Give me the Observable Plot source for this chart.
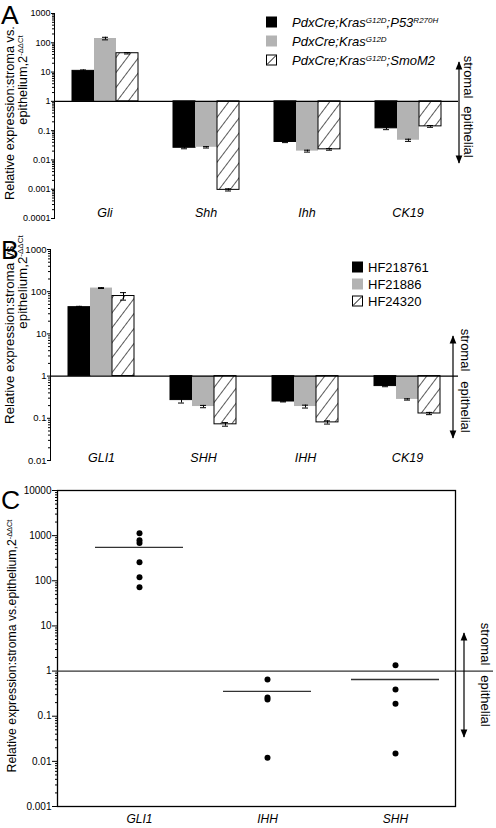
<!DOCTYPE html>
<html><head><meta charset="utf-8">
<script src="https://cdn.jsdelivr.net/npm/d3@7"></script>
<script src="https://cdn.jsdelivr.net/npm/@observablehq/plot@0.6"></script>
<style>
html,body{margin:0;padding:0;background:#fff;}
#page{position:relative;width:496px;height:828px;overflow:hidden;font-family:"Liberation Sans",Arial,sans-serif;}
.panel{position:absolute;left:0;}
#overlay{position:absolute;left:0;top:0;pointer-events:none;}
#overlay text{font-family:"Liberation Sans",Arial,sans-serif;}
</style></head><body>
<svg width="0" height="0" style="position:absolute">
<defs>
<pattern id="hatch" patternUnits="userSpaceOnUse" width="9" height="9" patternTransform="rotate(37)">
<rect width="9" height="9" fill="white"/><line x1="0" y1="0" x2="0" y2="9" stroke="black" stroke-width="1.3"/>
</pattern>
<marker id="ah" viewBox="0 0 10 10" refX="9" refY="5" markerWidth="7" markerHeight="7" orient="auto-start-reverse">
<path d="M0,1 L10,5 L0,9 z" fill="black"/>
</marker>
</defs></svg>
<div id="page"></div>
<script>
// ---------- Panel A data ----------
const genesA = ["Gli", "Shh", "Ihh", "CK19"];
const seriesA = ["PdxCre;KrasG12D;P53R270H", "PdxCre;KrasG12D", "PdxCre;KrasG12D;SmoM2"];
const valA_p53 = [11, 0.026, 0.041, 0.12];
const valA_kras = [140, 0.027, 0.020, 0.047];
const valA_smo = [44, 0.00095, 0.023, 0.14];
const errA_p53 = [0.8, 0.002, 0.002, 0.012];
const errA_kras = [14, 0.0015, 0.0015, 0.004];
const errA_smo = [2.5, 0.00008, 0.0015, 0.01];
const ticksA = [0.0001, 0.001, 0.01, 0.1, 1, 10, 100, 1000];

// ---------- Panel B data ----------
const genesB = ["GLI1", "SHH", "IHH", "CK19"];
const seriesB = ["HF218761", "HF21886", "HF24320"];
const valB_1 = [43, 0.27, 0.25, 0.58];
const valB_2 = [122, 0.19, 0.19, 0.28];
const valB_3 = [79, 0.072, 0.08, 0.13];
const errB_1 = [2, 0.04, 0.006, 0.02];
const errB_2 = [3, 0.012, 0.015, 0.01];
const errB_3 = [16, 0.007, 0.007, 0.008];
const ticksB = [0.01, 0.1, 1, 10, 100, 1000];

// ---------- Panel C data ----------
const genesC = ["GLI1", "IHH", "SHH"];
const pointsGLI1 = [1130, 790, 690, 257, 120, 72];
const pointsIHH = [0.65, 0.26, 0.235, 0.012];
const pointsSHH = [1.34, 0.39, 0.19, 0.015];
const meansC = [550, 0.355, 0.65];
const ticksC = [0.001, 0.01, 0.1, 1, 10, 100, 1000, 10000];

// ---------- styles ----------
const FONT = '"Liberation Sans", Arial, sans-serif';
const barFill = ["#000000", "#b3b3b3", "url(#hatch)"];
const barStroke = ["#000000", "none", "#000000"];

function minorTicks(ticks) {
  const out = [];
  for (let i = 0; i < ticks.length - 1; i++) for (let k = 2; k <= 9; k++) out.push(ticks[i] * k);
  return out;
}
function rowsOf(genes, series, vals, errs) {
  const rows = [];
  genes.forEach((g, i) => series.forEach((s, j) => rows.push({gene: g, series: s, idx: j, value: vals[j][i], err: errs[j][i]})));
  return rows;
}

const page = document.getElementById("page");

function barPanel(o) {
  const rows = rowsOf(o.genes, o.series, o.vals, o.errs);
  const lo = d => d.value - d.err, hi = d => d.value + d.err;
  const chart = Plot.plot({
    width: 496, height: o.height,
    marginTop: o.mt, marginBottom: o.mb, marginLeft: o.ml, marginRight: o.mr,
    style: {fontFamily: FONT, fontSize: o.tickFont + "px", background: "transparent", color: "black"},
    fx: {domain: o.genes, padding: 0, axis: null, label: null},
    x: {domain: o.series, paddingInner: 0, paddingOuter: 0.75, axis: null, label: null},
    y: {type: "log", domain: [o.ticks[0], o.ticks[o.ticks.length - 1]], label: null},
    color: {type: "identity"},
    marks: [
      Plot.barY(rows, {fx: "gene", x: "series", y1: () => 1, y2: "value",
        fill: d => barFill[d.idx], stroke: d => barStroke[d.idx], strokeWidth: 1}),
      Plot.ruleX(rows, {fx: "gene", x: "series", y1: lo, y2: hi, stroke: "black", strokeWidth: 1}),
      Plot.tickY(rows, {fx: "gene", x: "series", y: hi, insetLeft: 8, insetRight: 8, stroke: "black"}),
      Plot.tickY(rows, {fx: "gene", x: "series", y: lo, insetLeft: 8, insetRight: 8, stroke: "black"}),
      Plot.ruleY([1], {stroke: "black", strokeWidth: 1.2}),
      Plot.axisY({ticks: o.ticks, tickFormat: d => String(d), tickSize: 3, tickPadding: 1, label: null}),
      Plot.axisY({ticks: minorTicks(o.ticks), tickFormat: () => "", tickSize: 2, label: null}),
      Plot.frame({anchor: "left", facetAnchor: "left", stroke: "black"}),
      Plot.text(o.genes, {fx: d => d, text: d => d, frameAnchor: "bottom", lineAnchor: "bottom", dy: o.labelDy,
        fontStyle: "italic", fontSize: 12.5})
    ]
  });
  chart.classList.add("panel");
  chart.style.top = o.top + "px";
  page.appendChild(chart);
}

barPanel({genes: genesA, series: seriesA, vals: [valA_p53, valA_kras, valA_smo], errs: [errA_p53, errA_kras, errA_smo],
  ticks: ticksA, top: 0, height: 228, mt: 13, mb: 10, ml: 53, mr: 38, tickFont: 9, labelDy: -2});
barPanel({genes: genesB, series: seriesB, vals: [valB_1, valB_2, valB_3], errs: [errB_1, errB_2, errB_3],
  ticks: ticksB, top: 235, height: 233, mt: 14, mb: 8, ml: 49, mr: 38, tickFont: 9.5, labelDy: 1});

// ---------- Panel C ----------
const pointRows = [];
[pointsGLI1, pointsIHH, pointsSHH].forEach((arr, i) => arr.forEach(v => pointRows.push({gene: genesC[i], value: v})));
const meanRows = genesC.map((g, i) => ({gene: g, mean: meansC[i]}));
const chartC = Plot.plot({
  width: 496, height: 348, marginTop: 10, marginBottom: 22, marginLeft: 57, marginRight: 41,
  style: {fontFamily: FONT, fontSize: "10px", background: "transparent", color: "black"},
  x: {type: "band", domain: genesC, paddingInner: 0.31, paddingOuter: 0.2, align: 0.7, label: null},
  y: {type: "log", domain: [ticksC[0], ticksC[ticksC.length - 1]], label: null},
  marks: [
    Plot.frame({stroke: "black", strokeWidth: 1.3}),
    Plot.ruleY([1], {stroke: "#333", strokeWidth: 1.2, insetRight: -38}),
    Plot.tickY(meanRows, {x: "gene", y: "mean", stroke: "#333", strokeWidth: 1.3}),
    Plot.dot(pointRows, {x: "gene", y: "value", r: 3, fill: "black", stroke: "none"}),
    Plot.axisY({ticks: ticksC, tickFormat: d => String(d), tickSize: 5, tickPadding: 1, label: null}),
    Plot.axisY({ticks: minorTicks(ticksC), tickFormat: () => "", tickSize: 2, label: null}),
    Plot.axisX({tickSize: 0, tickPadding: 8, fontStyle: "italic", fontSize: 12, label: null})
  ]
});
chartC.classList.add("panel");
chartC.style.top = "480px";
page.appendChild(chartC);

// ---------- Overlay: panel letters, axis titles, legends, arrows ----------
const ov = d3.select(page).append("svg").attr("id", "overlay").attr("width", 496).attr("height", 828);

[["A", 24], ["B", 259], ["C", 509]].forEach(([t, y]) =>
  ov.append("text").attr("x", 1).attr("y", y).attr("font-size", 26.5).text(t));

// rotated axis title; if target length given, font is scaled so the line fits it
function yTitle(x, y, size, parts, target) {
  const t = ov.append("text").attr("transform", `translate(${x},${y}) rotate(-90)`)
    .attr("text-anchor", "middle").attr("font-size", size);
  const sups = [];
  parts.forEach(([s, sup]) => {
    const ts = t.append("tspan").text(s);
    if (sup) { ts.attr("font-size", size * 0.6).attr("baseline-shift", "super"); sups.push(ts); }
  });
  let fs = size;
  if (target) {
    const len = t.node().getComputedTextLength();
    fs = size * target / len;
    t.attr("font-size", fs);
    sups.forEach(ts => ts.attr("font-size", fs * 0.6));
  }
  return fs;
}
// Panel A titles
const fsA = yTitle(14, 113, 13.5, [["Relative expression:stroma vs."]], 174);
yTitle(27, 80, fsA, [["epithelium,2"], ["-ΔΔCt", true]]);
// Panel B titles
const fsB = yTitle(14, 333, 13.5, [["Relative expression:stroma vs."]], 182);
yTitle(27, 282, fsB, [["epithelium,2"], ["-ΔΔCt", true]]);
// Panel C title
yTitle(16, 646, 12.5, [["Relative expression:stroma vs.epithelium,2"], ["-ΔΔCt", true]], 253);

// arrows and side labels
function sideArrow(x, y1, y2, tx, sy, ey) {
  ov.append("line").attr("x1", x).attr("x2", x).attr("y1", y2).attr("y2", y1)
    .attr("stroke", "black").attr("stroke-width", 1.2)
    .attr("marker-end", "url(#ah)").attr("marker-start", "url(#ah)");
  ov.append("text").attr("transform", `translate(${tx},${sy}) rotate(90)`).attr("text-anchor", "middle")
    .attr("dominant-baseline", "central").attr("font-size", 13).text("stromal");
  ov.append("text").attr("transform", `translate(${tx},${ey}) rotate(90)`).attr("text-anchor", "middle")
    .attr("dominant-baseline", "central").attr("font-size", 13).text("epithelial");
}
sideArrow(459, 62, 163, 468, 77, 132);
sideArrow(453, 336, 438, 465, 350, 407);
sideArrow(464, 633, 737, 485, 644, 701);

// legends
function swatch(x, y, idx) {
  if (idx === 2) {
    ov.append("rect").attr("x", x + 0.5).attr("y", y + 0.5).attr("width", 10).attr("height", 10)
      .attr("fill", "white").attr("stroke", "black");
    ov.append("line").attr("x1", x + 1).attr("y1", y + 10).attr("x2", x + 10).attr("y2", y + 1).attr("stroke", "black");
  } else {
    ov.append("rect").attr("x", x).attr("y", y).attr("width", 11).attr("height", 11).attr("fill", barFill[idx]);
  }
}
// Panel A legend (genotype names with superscripts)
const legendA = [
  [["PdxCre;Kras"], ["G12D", true], [";P53"], ["R270H", true]],
  [["PdxCre;Kras"], ["G12D", true]],
  [["PdxCre;Kras"], ["G12D", true], [";SmoM2"]]
];
[22, 41, 60].forEach((cy, i) => {
  swatch(266, cy - 5.5, i);
  const t = ov.append("text").attr("x", 292).attr("y", cy + 4.5).attr("font-size", 13).attr("font-style", "italic");
  legendA[i].forEach(([s, sup]) => {
    const ts = t.append("tspan").text(s);
    if (sup) ts.attr("font-size", 8).attr("baseline-shift", "super");
  });
});
// Panel B legend
[267, 284, 301].forEach((cy, i) => {
  swatch(352, cy - 5.5, i);
  ov.append("text").attr("x", 368).attr("y", cy + 4.5).attr("font-size", 13).text(seriesB[i]);
});
</script>
</body></html>
